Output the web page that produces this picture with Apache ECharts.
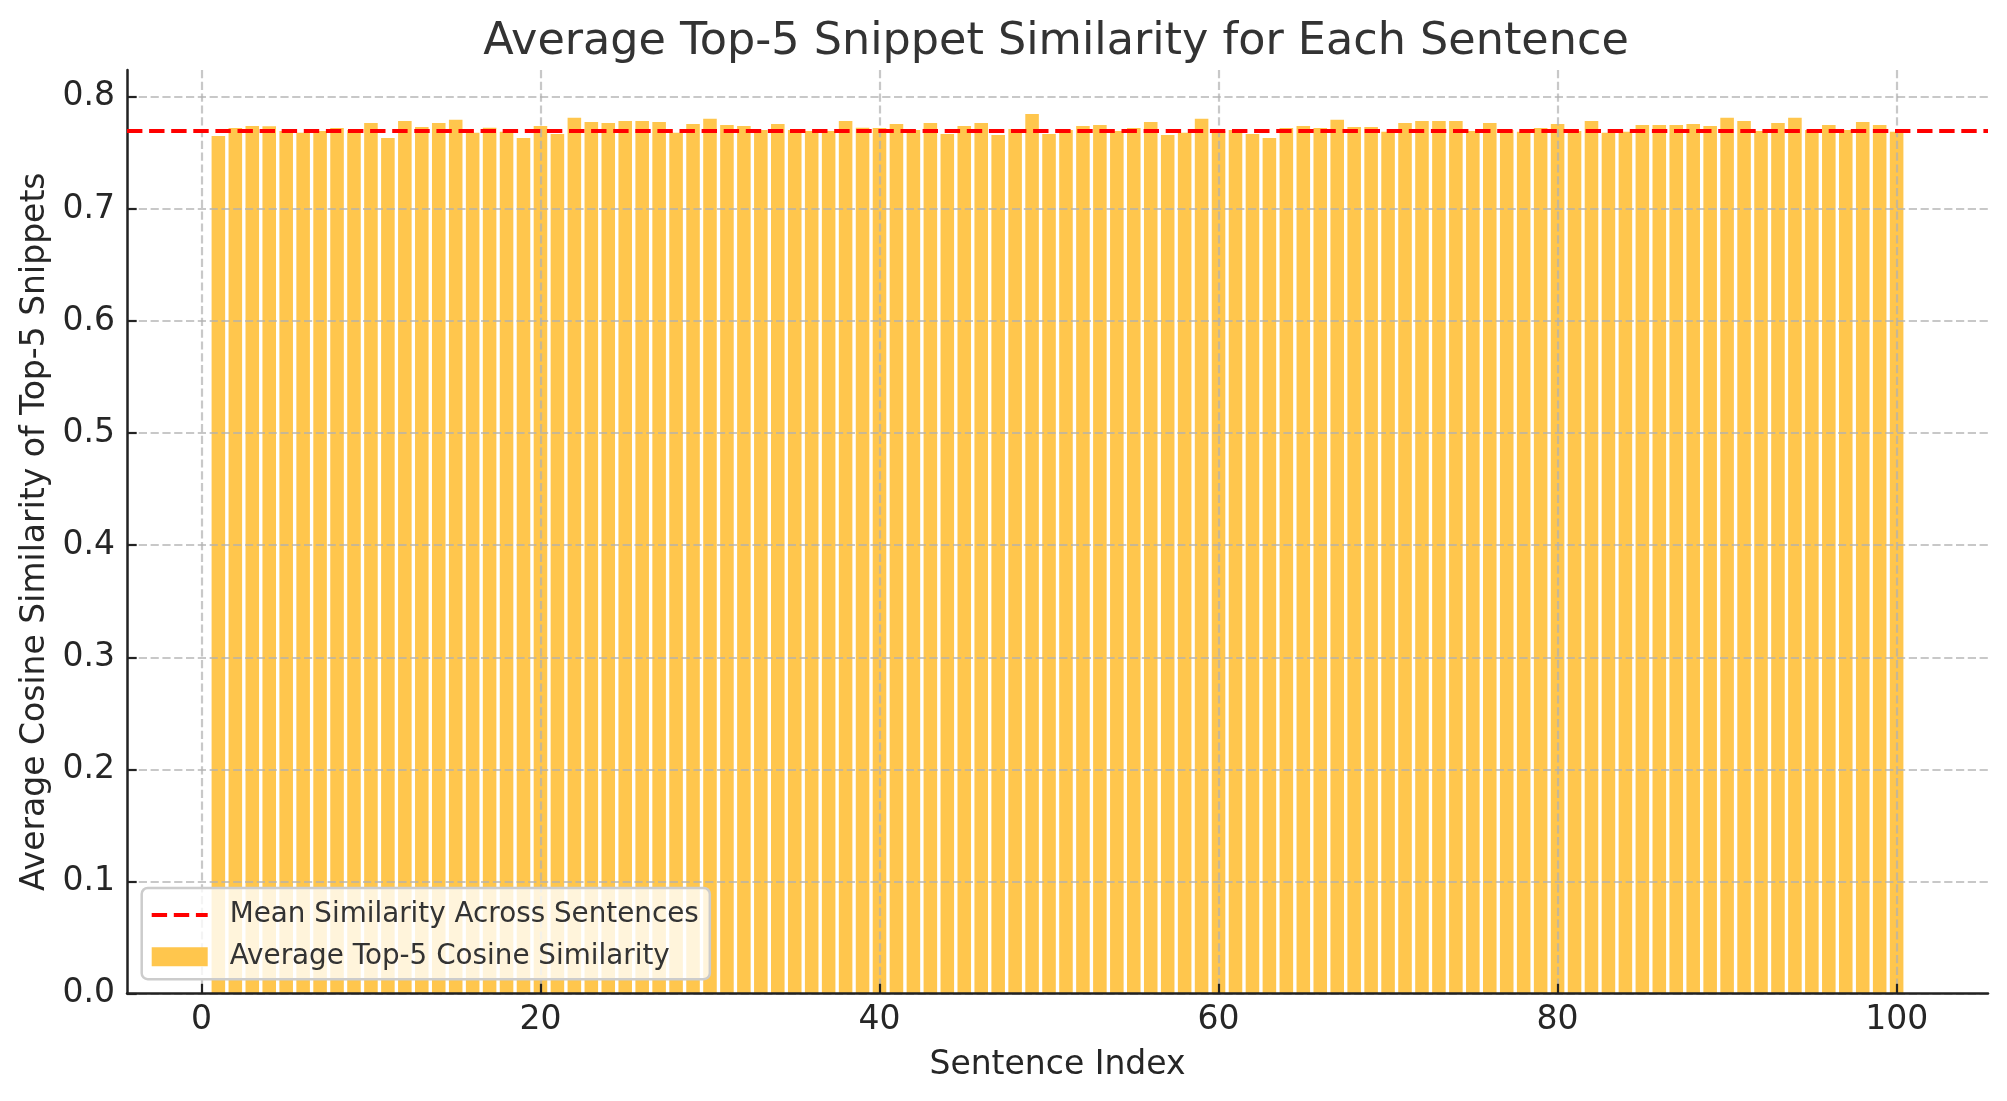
<!DOCTYPE html>
<html>
<head>
<meta charset="utf-8">
<script src="https://cdn.jsdelivr.net/npm/echarts@6/dist/echarts.min.js"></script>
<style>
html,body{margin:0;padding:0;background:#fff;}
#chart{width:2007px;height:1101px;}
</style>
</head>
<body>
<div id="chart"></div>
<script>
// ---- data ----
const sentenceIndex = [];
for (let i = 1; i <= 100; i++) sentenceIndex.push(i);
const similarity = [
  0.7652, 0.7723, 0.7741, 0.7738, 0.7696, 0.7679, 0.7696, 0.7723, 0.7705, 0.7768,
  0.7634, 0.7786, 0.7732, 0.7768, 0.7795, 0.7679, 0.7724, 0.7688, 0.7634, 0.7741,
  0.7670, 0.7813, 0.7777, 0.7768, 0.7786, 0.7786, 0.7777, 0.7679, 0.7759, 0.7804,
  0.7750, 0.7741, 0.7705, 0.7759, 0.7705, 0.7696, 0.7696, 0.7786, 0.7725, 0.7723,
  0.7759, 0.7705, 0.7768, 0.7670, 0.7741, 0.7768, 0.7661, 0.7714, 0.7848, 0.7670,
  0.7705, 0.7741, 0.7750, 0.7696, 0.7723, 0.7777, 0.7661, 0.7679, 0.7804, 0.7696,
  0.7705, 0.7670, 0.7634, 0.7723, 0.7741, 0.7723, 0.7795, 0.7732, 0.7732, 0.7688,
  0.7768, 0.7786, 0.7786, 0.7786, 0.7696, 0.7768, 0.7705, 0.7688, 0.7723, 0.7759,
  0.7696, 0.7786, 0.7679, 0.7688, 0.7750, 0.7750, 0.7750, 0.7759, 0.7741, 0.7813,
  0.7786, 0.7696, 0.7768, 0.7813, 0.7705, 0.7750, 0.7705, 0.7777, 0.7750, 0.7688
];
const meanSimilarity = 0.7736;
const xTicks = [0, 20, 40, 60, 80, 100];
const yTicks = [0.0, 0.1, 0.2, 0.3, 0.4, 0.5, 0.6, 0.7, 0.8];

// ---- layout ----
const W = 2007, H = 1101;
const gridL = 127, gridR = 19, gridT = 70, gridB = 107.5;
const xMin = -4.39, xMax = 105.39;
const yMax = 0.824;
const barW = 0.8 * (W - gridL - gridR) / (xMax - xMin);

const FONT = 'DejaVu Sans';
const gridLine = { show: true, lineStyle: { color: 'rgba(176,176,176,0.7)', width: 2.2, type: [8.2, 3.6] } };
const dashIcon = 'path://M0,0H15.4V4.2H0Z M22.1,0H37.5V4.2H22.1Z M44.2,0H56V4.2H44.2Z';

const chart = echarts.init(document.getElementById('chart'), null, { renderer: 'canvas' });
chart.setOption({
  animation: false,
  backgroundColor: '#ffffff',
  title: {
    text: 'Average Top-5 Snippet Similarity for Each Sentence',
    left: 1056, top: 20, textAlign: 'center', padding: 0,
    textStyle: { fontFamily: FONT, fontSize: 44.5, fontWeight: 'normal', color: '#333333', lineHeight: 44 }
  },
  legend: {
    orient: 'vertical',
    left: 141.7, top: 888,
    padding: [13, 11, 8.5, 10],
    itemGap: 13.7,
    itemWidth: 56, itemHeight: 19,
    symbolKeepAspect: true,
    backgroundColor: 'rgba(255,255,255,0.8)',
    borderColor: '#cccccc', borderWidth: 2.5, borderRadius: 6,
    z: 10,
    textStyle: { fontFamily: FONT, fontSize: 27.8, color: '#333333', lineHeight: 28, padding: [0, 0, 0, 17] },
    data: [
      { name: 'Mean Similarity Across Sentences', icon: dashIcon,
        itemStyle: { color: '#ff0000', borderWidth: 0 }, lineStyle: { width: 0 } },
      { name: 'Average Top-5 Cosine Similarity', icon: 'rect' }
    ]
  },
  grid: { left: gridL, right: gridR, top: gridT, bottom: gridB, containLabel: false },
  xAxis: {
    type: 'value', min: xMin, max: xMax, z: 3,
    name: 'Sentence Index', nameLocation: 'middle', nameGap: 55,
    nameTextStyle: { fontFamily: FONT, fontSize: 33, color: '#262626' },
    axisLine: { show: true, onZero: false, lineStyle: { color: '#222222', width: 2.5 } },
    axisTick: { show: true, inside: true, length: 9.7, customValues: xTicks, lineStyle: { color: '#222222', width: 2.2 } },
    axisLabel: { customValues: xTicks, margin: 10, fontFamily: FONT, fontSize: 33, color: '#262626' },
    splitLine: gridLine
  },
  yAxis: {
    type: 'value', min: 0, max: yMax, z: 3,
    name: 'Average Cosine Similarity of Top-5 Snippets', nameLocation: 'middle', nameGap: 75, nameRotate: 90,
    nameTextStyle: { fontFamily: FONT, fontSize: 33, color: '#262626' },
    axisLine: { show: true, onZero: false, lineStyle: { color: '#222222', width: 2.5 } },
    axisTick: { show: true, inside: true, length: 9.7, customValues: yTicks, lineStyle: { color: '#222222', width: 2.2 } },
    axisLabel: { customValues: yTicks, margin: 12, fontFamily: FONT, fontSize: 33, color: '#262626',
      formatter: v => Number(v).toFixed(1) },
    splitLine: gridLine
  },
  series: [
    {
      name: 'Mean Similarity Across Sentences',
      type: 'line', data: [], symbol: 'none', showSymbol: false, z: 5,
      lineStyle: { color: '#ff0000', width: 4.2, type: [15.4, 6.7] },
      itemStyle: { color: '#ff0000' },
      markLine: {
        silent: true, symbol: ['none', 'none'], label: { show: false },
        lineStyle: { color: '#ff0000', width: 4.2, type: [15.4, 6.7] },
        data: [{ yAxis: meanSimilarity }]
      }
    },
    {
      name: 'Average Top-5 Cosine Similarity',
      type: 'bar', z: 2,
      barWidth: barW,
      itemStyle: { color: '#FFC64D' },
      data: sentenceIndex.map((x, i) => [x, similarity[i]])
    }
  ]
});
</script>
</body>
</html>
